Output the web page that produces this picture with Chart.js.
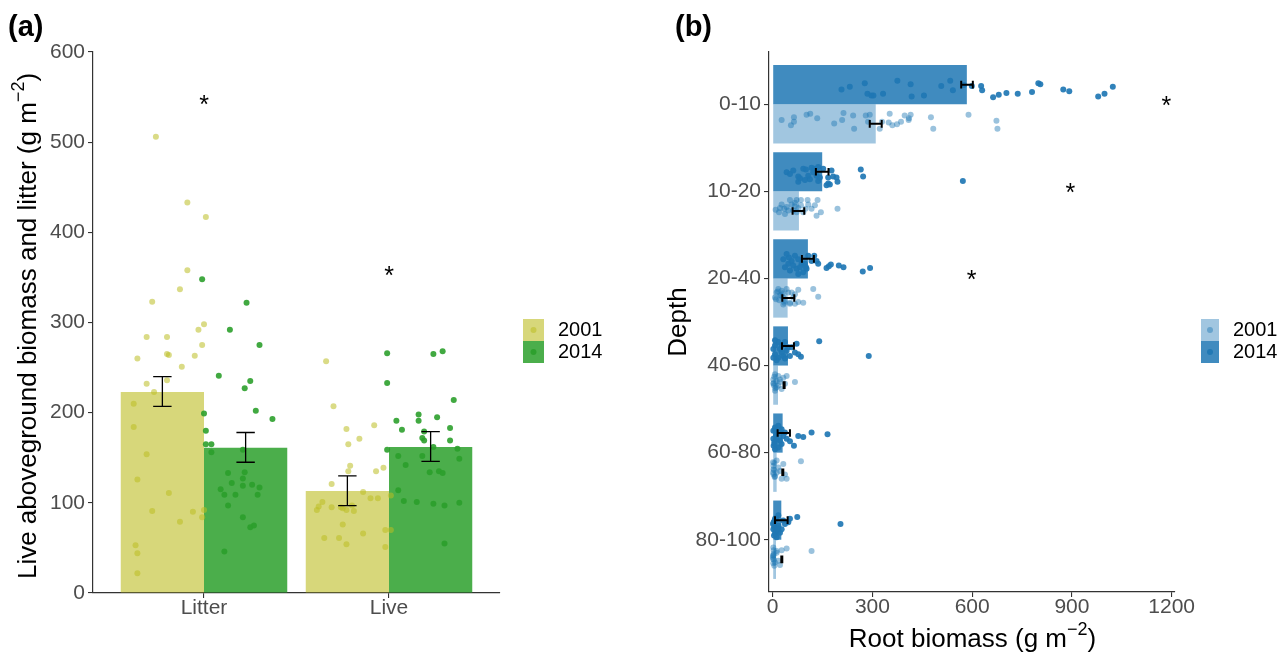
<!DOCTYPE html>
<html><head><meta charset="utf-8">
<script src="https://cdn.jsdelivr.net/npm/chart.js@4/dist/chart.umd.min.js"></script>
<style>
html,body{margin:0;padding:0;background:#fff;}
#wrap{position:relative;width:1287px;height:656px;overflow:hidden;}
canvas{position:absolute;top:0;}
#ca{left:0;width:643px;height:656px;}
#cb{left:643px;width:644px;height:656px;}
</style></head><body>
<div id="wrap"><canvas id="ca" width="643" height="656"></canvas><canvas id="cb" width="644" height="656"></canvas></div>
<script>
// ---------------- DATA ----------------
const years = ['2001', '2014'];
// Panel (a)
const catsA = ['Litter', 'Live'];
const yTicksA = [0, 100, 200, 300, 400, 500, 600];
const meanA2001 = [223, 113];
const meanA2014 = [161, 162];
const errA2001Low = [207, 97];
const errA2001High = [240, 130];
const errA2014Low = [145, 146];
const errA2014High = [178, 179];
const starA = [546, 356];
const litter2001 = [506,433,417,358,337,323,298,292,284,284,275,260,265,264,263,251,232,236,223,210,184,154,126,111,91,90,92,84,79,53,44,22];
const litter2001Jit = [-0.26,-0.09,0.01,-0.09,-0.13,-0.28,0.00,-0.03,-0.31,-0.20,-0.01,-0.36,-0.20,-0.19,-0.05,-0.12,-0.31,-0.20,-0.27,-0.38,-0.38,-0.31,-0.36,-0.19,-0.28,-0.06,0.00,-0.01,-0.13,-0.37,-0.36,-0.36];
const litter2014 = [348,322,292,275,241,235,227,202,193,199,180,165,165,156,159,133,134,127,122,119,120,117,115,109,109,109,97,84,75,46,73];
const litter2014Jit = [-0.01,0.23,0.14,0.30,0.08,0.25,0.22,0.28,0.37,0.00,0.01,0.01,0.04,0.04,0.21,0.13,0.22,0.21,0.15,0.21,0.26,0.30,0.09,0.11,0.17,0.29,0.13,0.21,0.27,0.11,0.25];
const live2001 = [257,207,182,186,171,165,141,135,139,135,121,112,105,105,108,101,96,92,95,95,94,92,97,91,76,61,61,66,54,70,70,51];
const live2001Jit = [-0.34,-0.30,-0.23,-0.08,-0.16,-0.22,-0.21,-0.22,-0.03,-0.07,-0.31,-0.14,-0.10,-0.06,0.01,-0.36,-0.38,-0.39,-0.31,-0.26,-0.25,-0.23,-0.20,-0.19,-0.25,-0.35,-0.27,-0.14,-0.23,-0.02,0.01,-0.02];
const live2014 = [266,265,268,233,214,198,195,191,191,181,183,179,172,169,169,159,162,160,152,152,149,142,134,135,133,114,102,101,99,97,100,55];
const live2014Jit = [-0.01,0.24,0.29,-0.01,0.35,0.16,0.26,0.04,0.16,0.07,0.33,0.19,0.18,0.19,0.33,-0.01,0.24,0.37,0.05,0.18,0.38,0.09,0.22,0.27,0.29,0.05,0.08,0.15,0.24,0.30,0.38,0.30];

// Panel (b)
const depths = ['0-10', '10-20', '20-40', '40-60', '60-80', '80-100'];
const xTicksB = [0, 300, 600, 900, 1200];
const meanB2014 = [584, 149, 106, 46, 30, 26];
const meanB2001 = [310, 79, 45, 16, 12, 10];
const errB2014Low = [567, 130, 88, 28, 15, 7];
const errB2014High = [602, 168, 124, 64, 52, 45];
const errB2001Low = [292, 60, 29, 33, 29, 26];
const errB2001High = [328, 95, 65, 36, 32, 29];
const starBValue = [1184, 895, 598];
const starBDepth = [1, 2, 3];
const rootB2014 = [
  [207,232,277,285,297,303,332,375,415,418,455,507,534,542,575,599,627,630,663,680,703,737,780,799,805,874,892,979,998,1023],
  [42,52,77,77,92,100,107,112,117,125,137,142,137,132,167,177,182,192,195,172,167,162,265,272,572,82,62,97,122,152],
  [42,49,57,67,77,87,47,52,72,82,92,102,107,117,125,132,137,162,169,175,199,213,271,293,62,97,32,77,100,37],
  [7,17,27,37,72,140,289,77,85,67,7,17,32,42,2,22,12,37,52,57,2,27,47,7],
  [7,17,27,12,32,22,52,64,77,92,117,165,2,17,37,7,42,27,2,5,10,3,8,12,6],
  [74,204,7,17,32,47,52,2,12,22,7,27,17,1,37,12,3,5,8,10,4,6,15]
];
const rootB2014Jit = [
  [-0.17,-0.20,-0.24,-0.12,-0.10,-0.10,-0.12,-0.27,-0.23,-0.09,-0.10,-0.21,-0.27,-0.16,-0.22,-0.21,-0.21,-0.16,-0.08,-0.11,-0.13,-0.12,-0.14,-0.24,-0.23,-0.17,-0.15,-0.09,-0.12,-0.20],
  [-0.22,-0.20,-0.17,-0.11,-0.26,-0.25,-0.18,-0.14,-0.27,-0.26,-0.28,-0.16,-0.12,-0.18,-0.16,-0.24,-0.17,-0.16,-0.11,-0.08,-0.09,-0.07,-0.25,-0.17,-0.12,-0.15,-0.24,-0.13,-0.22,-0.26],
  [-0.28,-0.24,-0.20,-0.26,-0.22,-0.17,-0.17,-0.09,-0.11,-0.13,-0.07,-0.11,-0.26,-0.20,-0.26,-0.20,-0.17,-0.12,-0.14,-0.16,-0.15,-0.13,-0.08,-0.12,-0.15,-0.17,-0.22,-0.05,-0.13,-0.13],
  [-0.29,-0.27,-0.23,-0.27,-0.25,-0.28,-0.11,-0.13,-0.10,-0.15,-0.13,-0.09,-0.11,-0.17,-0.19,-0.19,-0.06,-0.08,-0.11,-0.21,-0.09,-0.15,-0.21,-0.23],
  [-0.29,-0.31,-0.27,-0.21,-0.19,-0.14,-0.13,-0.08,-0.19,-0.18,-0.23,-0.21,-0.16,-0.06,-0.23,-0.04,-0.16,-0.10,-0.25,-0.12,-0.20,-0.08,-0.25,-0.15,-0.10],
  [-0.26,-0.18,-0.24,-0.28,-0.22,-0.20,-0.24,-0.12,-0.10,-0.08,-0.07,-0.12,-0.16,-0.18,-0.18,-0.03,-0.20,-0.15,-0.10,-0.25,-0.05,-0.22,-0.13]
];
const rootB2001 = [
  [27,55,64,64,102,113,134,185,209,213,242,245,280,292,287,322,329,352,349,360,374,386,397,415,409,410,476,483,589,673,676],
  [9,19,27,35,42,52,57,62,67,72,77,85,85,92,105,107,117,132,135,145,195,37,22,72,99,47,127,67],
  [12,17,22,27,32,42,47,52,62,67,77,77,92,122,137,37,57,7,52,67,32,15,20,25,30,10,35],
  [7,17,12,22,32,42,67,2,12,27,17,37,2,7,22,3,5,8,4],
  [1,12,32,85,2,12,22,37,42,27,7,1,17,2,3,4,5,6],
  [117,42,27,2,12,2,17,22,7,1,12,1,2,3,4,5,3,2]
];
const rootB2001Jit = [
  [0.18,0.24,0.15,0.20,0.12,0.11,0.16,0.22,0.18,0.10,0.13,0.28,0.13,0.12,0.20,0.28,0.20,0.11,0.21,0.24,0.23,0.20,0.13,0.12,0.18,0.16,0.15,0.28,0.12,0.19,0.28],
  [0.21,0.24,0.15,0.20,0.18,0.10,0.15,0.22,0.13,0.10,0.19,0.10,0.16,0.24,0.10,0.15,0.20,0.28,0.10,0.24,0.20,0.26,0.19,0.24,0.20,0.22,0.16,0.17],
  [0.16,0.12,0.19,0.14,0.22,0.12,0.16,0.28,0.22,0.18,0.13,0.27,0.28,0.12,0.21,0.26,0.16,0.22,0.29,0.29,0.30,0.15,0.25,0.20,0.17,0.24,0.28],
  [0.10,0.12,0.18,0.16,0.14,0.12,0.19,0.21,0.25,0.27,0.23,0.21,0.16,0.29,0.19,0.20,0.13,0.26,0.23],
  [0.11,0.09,0.13,0.10,0.19,0.23,0.21,0.25,0.30,0.30,0.27,0.23,0.17,0.15,0.25,0.20,0.12,0.28],
  [0.13,0.10,0.12,0.09,0.15,0.18,0.24,0.29,0.26,0.22,0.13,0.20,0.27,0.16,0.23,0.30,0.12,0.18]
];

// ---------------- STYLE ----------------
const FONT = '"Liberation Sans", Arial, Helvetica, sans-serif';
Chart.defaults.font.family = FONT;
const AXIS = '#333333';
const TICKTXT = '#4d4d4d';
const colA = {
  bar2001: 'rgba(188,189,34,0.6)', bar2014: 'rgba(44,160,44,0.85)',
  pt2001: 'rgba(188,189,34,0.55)', pt2014: 'rgba(44,160,44,0.9)'
};
const colB = {
  bar2014: 'rgba(31,119,180,0.85)', bar2001: 'rgba(31,119,180,0.42)',
  pt2014: 'rgba(31,119,180,0.92)', pt2001: 'rgba(31,119,180,0.45)'
};

function supTitle(ctx, x, y, main, sup, tail, size, rotate) {
  ctx.save();
  ctx.translate(x, y);
  if (rotate) ctx.rotate(-Math.PI / 2);
  ctx.fillStyle = '#000';
  ctx.textBaseline = 'middle';
  ctx.textAlign = 'left';
  const f = size + 'px ' + FONT;
  const fs = Math.round(size * 0.7) + 'px ' + FONT;
  ctx.font = f; const w1 = ctx.measureText(main).width; const w3 = ctx.measureText(tail).width;
  ctx.font = fs; const w2 = ctx.measureText(sup).width;
  let cx = -(w1 + w2 + w3) / 2;
  ctx.font = f; ctx.fillText(main, cx, 0); cx += w1;
  ctx.font = fs; ctx.fillText(sup, cx, -size * 0.36); cx += w2;
  ctx.font = f; ctx.fillText(tail, cx, 0);
  ctx.restore();
}
function legendKey(ctx, x, y, w, h, fill, dot) {
  ctx.fillStyle = fill; ctx.fillRect(x, y, w, h);
  ctx.beginPath(); ctx.arc(x + w / 2, y + h / 2, 3, 0, Math.PI * 2);
  ctx.fillStyle = dot; ctx.fill();
}
function star(ctx, x, yc, size) {
  ctx.save();
  ctx.font = size + 'px ' + FONT;
  ctx.fillStyle = '#000';
  ctx.textAlign = 'center';
  ctx.textBaseline = 'alphabetic';
  ctx.fillText('*', x, yc + size * 0.57);
  ctx.restore();
}

// ---------------- PANEL A ----------------
const ptsA2001 = litter2001.map((v, i) => ({x: 1 + litter2001Jit[i], y: v}))
  .concat(live2001.map((v, i) => ({x: 2 + live2001Jit[i], y: v})));
const ptsA2014 = litter2014.map((v, i) => ({x: 1 + litter2014Jit[i], y: v}))
  .concat(live2014.map((v, i) => ({x: 2 + live2014Jit[i], y: v})));

const plugA = {
  id: 'extrasA',
  afterDatasetsDraw(chart) {
    const ctx = chart.ctx, ys = chart.scales.y, xs = chart.scales.x;
    ctx.save();
    ctx.strokeStyle = '#000'; ctx.lineWidth = 1.3;
    [[0, errA2001Low, errA2001High], [1, errA2014Low, errA2014High]].forEach(([di, lo, hi]) => {
      chart.getDatasetMeta(di).data.forEach((bar, i) => {
        const x = bar.x, y1 = ys.getPixelForValue(lo[i]), y2 = ys.getPixelForValue(hi[i]);
        const cw = 9.2;
        ctx.beginPath();
        ctx.moveTo(x, y1); ctx.lineTo(x, y2);
        ctx.moveTo(x - cw, y1); ctx.lineTo(x + cw, y1);
        ctx.moveTo(x - cw, y2); ctx.lineTo(x + cw, y2);
        ctx.stroke();
      });
    });
    starA.forEach((v, i) => star(ctx, xs.getPixelForValue(i + 1), ys.getPixelForValue(v) - 2, 25));
    ctx.restore();
  },
  afterDraw(chart) {
    const ctx = chart.ctx;
    ctx.save();
    legendKey(ctx, 523, 319, 21, 22, colA.bar2001, colA.pt2001);
    legendKey(ctx, 523, 341, 21, 22, colA.bar2014, colA.pt2014);
    ctx.fillStyle = '#000'; ctx.font = '20px ' + FONT; ctx.textBaseline = 'middle'; ctx.textAlign = 'left';
    ctx.fillText(years[0], 558, 330);
    ctx.fillText(years[1], 558, 352);
    supTitle(ctx, 28.5, 326, 'Live aboveground biomass and litter (g m', '\u22122', ')', 26, true);
    ctx.font = 'bold 29px ' + FONT; ctx.textBaseline = 'alphabetic';
    ctx.fillText('(a)', 8, 36);
    ctx.restore();
  }
};

new Chart(document.getElementById('ca'), {
  type: 'bar',
  data: {
    datasets: [
      {label: years[0], data: catsA.map((c, i) => ({x: i + 1, y: meanA2001[i]})), backgroundColor: colA.bar2001, borderWidth: 0, barPercentage: 1, categoryPercentage: 0.9, order: 2},
      {label: years[1], data: catsA.map((c, i) => ({x: i + 1, y: meanA2014[i]})), backgroundColor: colA.bar2014, borderWidth: 0, barPercentage: 1, categoryPercentage: 0.9, order: 2},
      {type: 'scatter', label: 'p' + years[0], data: ptsA2001, backgroundColor: colA.pt2001, borderWidth: 0, pointRadius: 3, order: 1},
      {type: 'scatter', label: 'p' + years[1], data: ptsA2014, backgroundColor: colA.pt2014, borderWidth: 0, pointRadius: 3, order: 1}
    ]
  },
  options: {
    responsive: false, animation: false, events: [],
    layout: {padding: {left: 0, top: 52, right: 143, bottom: 0}},
    plugins: {legend: {display: false}, tooltip: {enabled: false}},
    scales: {
      x: {
        type: 'linear', min: 0.4, max: 2.6, offset: false,
        afterBuildTicks: s => { s.ticks = catsA.map((c, i) => ({value: i + 1})); },
        afterFit: s => { s.height = 63; },
        ticks: {callback: v => catsA[v - 1], color: TICKTXT, font: {size: 21}, padding: -2, maxRotation: 0, autoSkip: false},
        grid: {display: true, drawOnChartArea: false, drawTicks: true, tickLength: 5, color: AXIS, lineWidth: 1.1, offset: false},
        border: {display: true, color: AXIS, width: 1.2}
      },
      y: {
        type: 'linear', min: 0, max: 600,
        afterBuildTicks: s => { s.ticks = yTicksA.map(v => ({value: v})); },
        afterFit: s => { s.width = 93; },
        ticks: {color: TICKTXT, font: {size: 21}, padding: 3},
        grid: {display: true, drawOnChartArea: false, drawTicks: true, tickLength: 5, color: AXIS, lineWidth: 1.1},
        border: {display: true, color: AXIS, width: 1.2}
      }
    }
  },
  plugins: [plugA]
});

// ---------------- PANEL B ----------------
const ptsB2014 = [], ptsB2001 = [];
rootB2014.forEach((arr, d) => arr.forEach((v, i) => ptsB2014.push({x: v, y: d + 1 + rootB2014Jit[d][i]})));
rootB2001.forEach((arr, d) => arr.forEach((v, i) => ptsB2001.push({x: v, y: d + 1 + rootB2001Jit[d][i]})));

const plugB = {
  id: 'extrasB',
  afterDatasetsDraw(chart) {
    const ctx = chart.ctx, xs = chart.scales.x, ys = chart.scales.y;
    ctx.save();
    ctx.strokeStyle = '#000'; ctx.lineWidth = 2;
    [[0, errB2014Low, errB2014High], [1, errB2001Low, errB2001High]].forEach(([di, lo, hi]) => {
      chart.getDatasetMeta(di).data.forEach((bar, i) => {
        const y = bar.y, x1 = xs.getPixelForValue(lo[i]), x2 = xs.getPixelForValue(hi[i]);
        const ch = 3.8;
        ctx.beginPath();
        ctx.moveTo(x1, y); ctx.lineTo(x2, y);
        ctx.moveTo(x1, y - ch); ctx.lineTo(x1, y + ch);
        ctx.moveTo(x2, y - ch); ctx.lineTo(x2, y + ch);
        ctx.stroke();
      });
    });
    starBValue.forEach((v, i) => star(ctx, xs.getPixelForValue(v), ys.getPixelForValue(starBDepth[i] - 0.055), 25));
    ctx.restore();
  },
  afterDraw(chart) {
    const ctx = chart.ctx;
    ctx.save();
    legendKey(ctx, 558, 319, 18, 22, colB.bar2001, colB.pt2001);
    legendKey(ctx, 558, 341, 18, 22, colB.bar2014, colB.pt2014);
    ctx.fillStyle = '#000'; ctx.font = '20px ' + FONT; ctx.textBaseline = 'middle'; ctx.textAlign = 'left';
    ctx.fillText(years[0], 590, 330.5);
    ctx.fillText(years[1], 590, 352.5);
    supTitle(ctx, 329.5, 639.5, 'Root biomass (g m', '\u22122', ')', 26, false);
    supTitle(ctx, 35.5, 322, 'Depth', '', '', 26, true);
    ctx.fillStyle = '#000';
    ctx.font = 'bold 29px ' + FONT; ctx.textBaseline = 'alphabetic'; ctx.textAlign = 'left';
    ctx.fillText('(b)', 32, 36);
    ctx.restore();
  }
};

new Chart(document.getElementById('cb'), {
  type: 'bar',
  data: {
    datasets: [
      {label: years[1], indexAxis: 'y', data: depths.map((d, i) => ({y: i + 1, x: meanB2014[i]})), backgroundColor: colB.bar2014, borderWidth: 0, barPercentage: 1, categoryPercentage: 0.9, order: 2},
      {label: years[0], indexAxis: 'y', data: depths.map((d, i) => ({y: i + 1, x: meanB2001[i]})), backgroundColor: colB.bar2001, borderWidth: 0, barPercentage: 1, categoryPercentage: 0.9, order: 2},
      {type: 'scatter', indexAxis: 'x', label: 'p' + years[1], data: ptsB2014, backgroundColor: colB.pt2014, borderWidth: 0, pointRadius: 3, order: 1},
      {type: 'scatter', indexAxis: 'x', label: 'p' + years[0], data: ptsB2001, backgroundColor: colB.pt2001, borderWidth: 0, pointRadius: 3, order: 1}
    ]
  },
  options: {
    indexAxis: 'y',
    responsive: false, animation: false, events: [],
    layout: {padding: {left: 0, top: 52, right: 112, bottom: 0}},
    plugins: {legend: {display: false}, tooltip: {enabled: false}},
    scales: {
      x: {
        type: 'linear', min: -11, max: 1210, offset: false,
        afterBuildTicks: s => { s.ticks = xTicksB.map(v => ({value: v})); },
        afterFit: s => { s.height = 64; },
        ticks: {callback: v => String(v), color: TICKTXT, font: {size: 21}, padding: -2, maxRotation: 0, autoSkip: false},
        grid: {display: true, drawOnChartArea: false, drawTicks: true, tickLength: 5, color: AXIS, lineWidth: 1.1, offset: false},
        border: {display: true, color: AXIS, width: 1.2}
      },
      y: {
        type: 'linear', min: 0.4, max: 6.6, reverse: true, offset: false,
        afterBuildTicks: s => { s.ticks = depths.map((d, i) => ({value: i + 1})); },
        afterFit: s => { s.width = 126; },
        ticks: {callback: v => depths[v - 1], color: TICKTXT, font: {size: 21}, padding: 3, autoSkip: false},
        grid: {display: true, drawOnChartArea: false, drawTicks: true, tickLength: 5, color: AXIS, lineWidth: 1.1, offset: false},
        border: {display: true, color: AXIS, width: 1.2}
      }
    }
  },
  plugins: [plugB]
});
</script>
</body></html>
